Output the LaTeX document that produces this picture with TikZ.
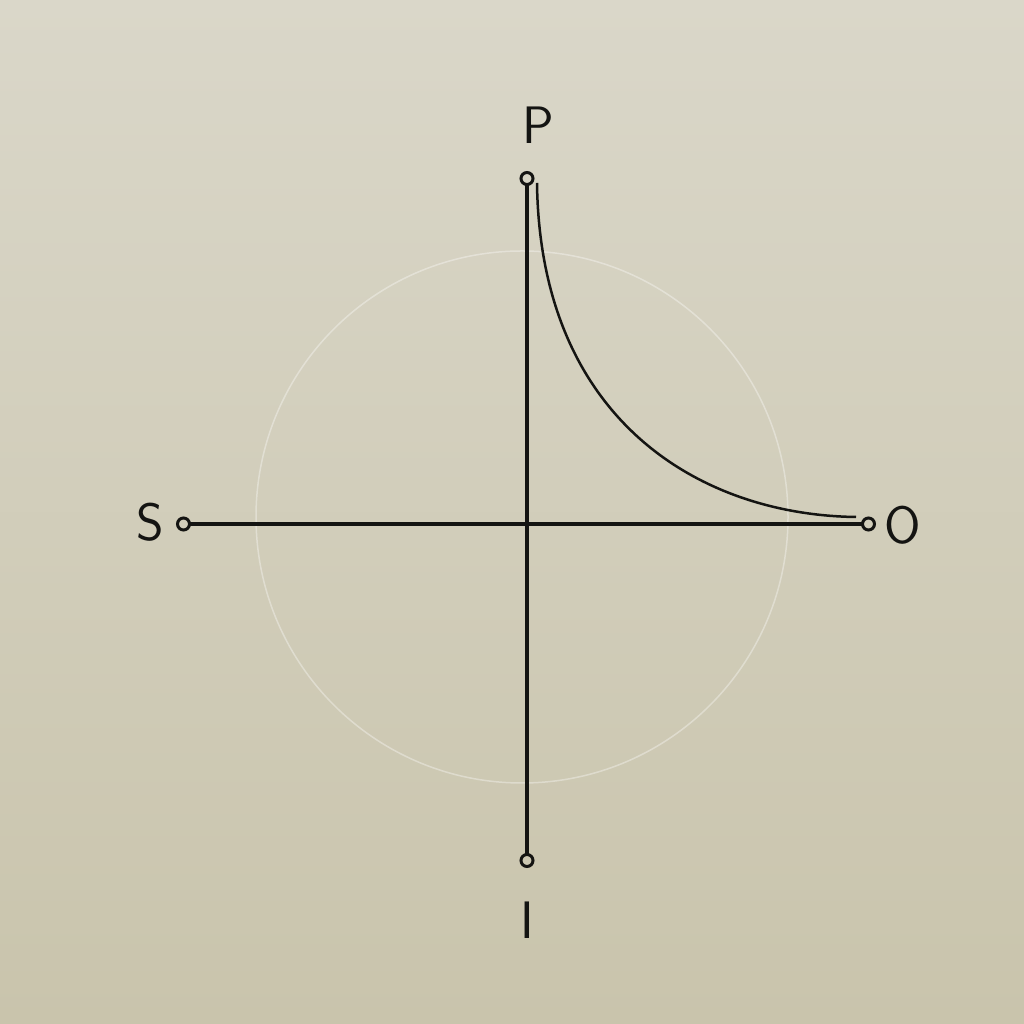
\documentclass[tikz,border=0pt]{standalone}
\usepackage{tikz}
\usetikzlibrary{arrows.meta}
\definecolor{paperTop}{RGB}{218,215,201}
\definecolor{paperBot}{RGB}{201,196,172}
\definecolor{ink}{RGB}{20,20,18}
\tikzset{axis/.style={ink, line width=0.065cm, {Circle[open,length=0.3cm,line width=0.06cm]}-{Circle[open,length=0.3cm,line width=0.06cm]}},
	lbl/.style={font=\sffamily\fontsize{30}{30}\selectfont, text=ink, inner sep=0pt}}
\begin{document}
\begin{tikzpicture}[x=0.02cm, y=0.02cm]
		\shade[top color=paperTop, bottom color=paperBot] (0,0) rectangle (1024,1024);
		\useasboundingbox (0,0) rectangle (1024,1024);
		\draw[white, opacity=0.35, line width=0.03cm](522,507) circle (266);
		\coordinate(top) at (527,853);
		\coordinate(bot) at (527,156);
		\coordinate(lft) at (176,500);
		\coordinate(rgt) at (876,500);
		\node(P)[lbl] at (538,899){P};
		\node(S)[lbl] at (150,502){S};
		\node(O)[lbl] at (903,499){O};
		\node(I)[lbl] at (527,104){I};
		\draw[axis](top) -- (bot);
		\draw[axis](lft) -- (rgt);
		\draw[ink, line width=0.05cm](537,841) .. controls (540,604) and (700,509) .. (856,507);
	\end{tikzpicture}
\end{document}
